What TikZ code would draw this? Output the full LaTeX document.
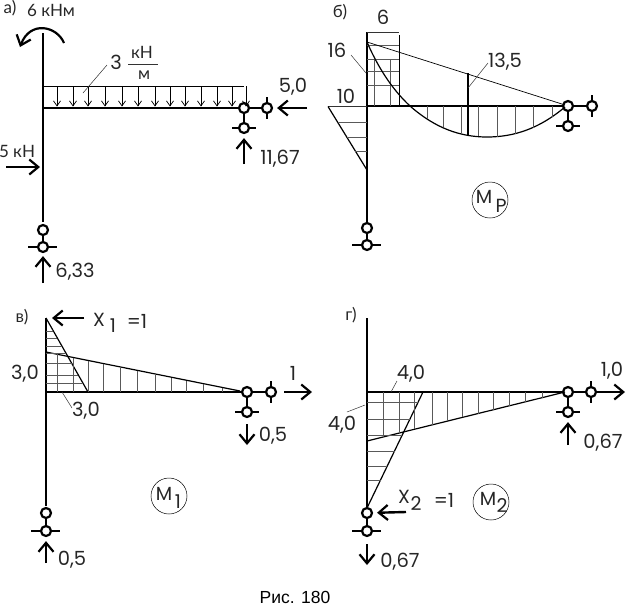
\documentclass[tikz,border=0pt]{standalone}
\usepackage{fontspec}
\setmainfont{Poppins}
\newfontfamily\cyrfont{Lato}
\newfontfamily\capfont{Liberation Sans}
\usetikzlibrary{arrows.meta}

\tikzset{
    txt/.style={inner sep=0pt, text=black!85, font=\fontsize{19.5}{21}\selectfont},
    cyr/.style={inner sep=0pt, text=black!85, font=\cyrfont\fontsize{17}{19}\selectfont},
    subtxt/.style={inner sep=0pt, text=black!85, font=\fontsize{19}{21}\selectfont},
    hinge/.style={circle, draw, line width=2.2pt, fill=white, inner sep=0pt, minimum size=10pt},
    bar/.style={line width=2.8pt},
    link/.style={line width=1.2pt},
    tick/.style={line width=2.2pt},
    force/.style={line width=2.4pt, -{Straight Barb[length=9pt, width=15pt, line width=2.2pt]}},
    load/.style={line width=0.7pt, -{Straight Barb[length=5pt, width=7pt]}},
    thinline/.style={line width=0.5pt, black!80},
    hatch/.style={line width=0.4pt, black!65},
    edgeline/.style={line width=1.2pt},
    tag/.style={circle, draw, line width=0.5pt, minimum size=36pt, inner sep=0pt}
}

\begin{document}
\begin{tikzpicture}[x=1pt, y=-1pt]
    \useasboundingbox (0,0) rectangle (630,606);

    % define supports
    \foreach \s/\x/\y/\yy in {load/43/230/247, mom/367/228/245, one/46/513/531, two/367/513/531}
    {
        \node[hinge] (\s-foot) at (\x, \y) {};
        \node[hinge] (\s-base) at (\x, \yy) {};
        \draw[link] (\s-foot) -- (\s-base);
        \coordinate (\s-basel) at (\x-15, \yy);
        \coordinate (\s-baser) at (\x+14, \yy);
        \draw[tick] (\s-basel) -- (\s-base);
        \draw[tick] (\s-base) -- (\s-baser);
    }
    \foreach \s/\x/\y/\xx in {load/244/108/267, mom/568/106/592, one/247/392/271, two/568/392/591}
    {
        \node[hinge] (\s-joint) at (\x, \y) {};
        \node[hinge] (\s-roll) at (\x, \y+20) {};
        \node[hinge] (\s-side) at (\xx, \y) {};
        \draw[link] (\s-joint) -- (\s-roll);
        \draw[link] (\s-joint) -- (\s-side);
        \coordinate (\s-rolll) at (\x-12, \y+20);
        \coordinate (\s-rollr) at (\x+12, \y+20);
        \draw[tick] (\s-rolll) -- (\s-roll);
        \draw[tick] (\s-roll) -- (\s-rollr);
        \coordinate (\s-sidet) at (\xx, \y-11);
        \coordinate (\s-sideb) at (\xx, \y+11);
        \draw[tick] (\s-sidet) -- (\s-side);
        \draw[tick] (\s-side) -- (\s-sideb);
    }

    % frames
    \foreach \s/\x/\yt/\yl/\yb in {load/43/33/222/108, mom/367/32/222/106, one/46/318/506/392, two/367/318/508/392}
    {
        \coordinate (\s-top) at (\x, \yt);
        \coordinate (\s-low) at (\x, \yl);
        \coordinate (\s-knee) at (\x, \yb);
        \draw[bar] (\s-top) -- (\s-low);
        \draw[bar] (\s-knee) -- (\s-joint);
    }

    % panel a: loads
    \coordinate (ql) at (43, 86);
    \coordinate (qr) at (244, 86);
    \draw[line width=0.8pt] (ql) -- (qr);
    \foreach \x in {57, 73, 88, 105, 122, 138, 155, 170, 185, 201, 217, 232, 246}
        \draw[load] (\x, 86) -- (\x, 106.5);
    \draw[thinline] (83, 93) -- (107, 65);
    \node[txt] (q) at (116, 62) {3};
    \node[cyr] (qn) at (142, 52) {кН};
    \node[cyr] (qd) at (144, 75) {м};
    \draw[thinline] (128, 64) -- (158, 64);
    \draw[line width=2.2pt, -{Straight Barb[length=9pt, width=15pt, line width=2.2pt]}] (64, 43) .. controls (57, 26) and (30, 20) .. (20, 47);
    \node[cyr] (mom6) at (51, 10) {6 кНм};
    \node[cyr] (la) at (10, 8) {а)};
    \node[cyr] (fl) at (17, 151) {5 кН};
    \coordinate (fls) at (6, 167);
    \coordinate (fle) at (40, 167);
    \draw[force] (fls) -- (fle);
    \coordinate (ras) at (43, 283);
    \draw[force, shorten >=3pt] (ras) -- (load-base);
    \node[txt] (ra) at (75, 272) {6,33};
    \coordinate (rbs) at (244, 164);
    \draw[force, shorten >=4pt] (rbs) -- (load-roll);
    \node[txt] (rb) at (280, 159) {11,67};
    \coordinate (rhs) at (307, 108);
    \draw[force, shorten >=4pt] (rhs) -- (load-side);
    \node[txt] (rh) at (293, 87) {5,0};

    % panel b: moment diagram
    \node[cyr] (lb) at (340, 12) {б)};
    \node[txt] (b6) at (383, 17) {6};
    \node[txt] (b16) at (337, 50) {16};
    \node[txt] (b10) at (346, 96) {10};
    \node[txt] (b135) at (505, 62) {13,5};
    \draw[thinline] (367, 32) -- (399, 32);
    \draw[line width=0.8pt] (399, 35) -- (399, 106);
    \foreach \y in {45, 59, 71, 85}
        \draw[hatch] (367, \y) -- (399, \y);
    \foreach \x in {374, 390}
        \draw[hatch] (\x, 59) -- (\x, 106);
    \draw[edgeline] (367, 42) .. controls (380, 72) and (395, 92) .. (410, 106) .. controls (435, 128) and (460, 137) .. (487, 137) .. controls (515, 137) and (540, 128) .. (565, 107);
    \draw[line width=0.7pt] (367, 42) -- (565, 105);
    \draw[line width=2.4pt] (468, 73) -- (468, 135);
    \draw[thinline] (468, 88) -- (488, 63);
    \draw[thinline] (351, 55) -- (366, 73);
    \foreach \x/\y in {427/119, 443/127, 461/134, 478/136, 497/137, 515/134, 533/128, 552/117}
        \draw[hatch] (\x, 106) -- (\x, \y);
    \draw[thinline] (328, 106.5) -- (367, 106.5);
    \draw[edgeline] (328, 106.5) -- (367, 170);
    \foreach \y [evaluate=\y as \e using 328+39*(\y-106)/64] in {122, 137, 151}
        \draw[hatch] (\e, \y) -- (367, \y);
    \node[tag] (mp) at (490, 200) {};
    \node[subtxt] (mpm) at (484, 197) {M};
    \node[subtxt] (mpp) at (501, 206) {P};

    % panel c: unit state
    \node[cyr] (lc) at (22, 317) {в)};
    \draw[edgeline] (46, 318) -- (88, 392);
    \draw[edgeline] (46, 352) -- (240, 391);
    \foreach \y [evaluate=\y as \e using 46+42*(\y-318)/74] in {331, 338, 346, 353, 363, 375, 383}
        \draw[hatch] (46, \y) -- (\e, \y);
    \foreach \x [evaluate=\x as \t using 352+(\x-46)*40/194] in {57, 73, 88, 103, 120, 137, 155, 171, 186, 203, 222}
        \draw[hatch] (\x, \t) -- (\x, 392);
    \draw[thinline] (62, 392) -- (72, 408);
    \node[txt] (c30a) at (25, 374) {3,0};
    \node[txt] (c30b) at (86, 411) {3,0};
    \coordinate (xas) at (84, 318);
    \coordinate (xae) at (52, 318);
    \draw[force] (xas) -- (xae);
    \node[subtxt] (xa) at (99, 320) {X};
    \node[subtxt] (xa1) at (113, 326) {1};
    \node[txt] (xav) at (137, 321) {=1};
    \coordinate (crs) at (284, 392);
    \coordinate (cre) at (312, 392);
    \draw[force] (crs) -- (cre);
    \node[txt] (cr) at (293, 373) {1};
    \coordinate (cve) at (247, 445);
    \draw[force, shorten <=6pt] (one-roll) -- (cve);
    \node[txt] (cv) at (273, 436) {0,5};
    \coordinate (cbs) at (46, 563);
    \draw[force, shorten >=4pt] (cbs) -- (one-base);
    \node[txt] (cb) at (72, 560) {0,5};
    \node[tag] (m1) at (169, 496) {};
    \node[subtxt] (m1m) at (164, 494) {M};
    \node[subtxt] (m1i) at (178, 502) {1};

    % panel d: unit state
    \node[cyr] (ld) at (351, 315) {г)};
    \draw[edgeline] (367, 508) -- (423, 392);
    \draw[edgeline] (367, 441) -- (565, 392);
    \foreach \y [evaluate=\y as \e using 367+56*(508-\y)/116] in {402, 419, 435, 451, 466, 480}
        \draw[hatch] (367, \y) -- (\e, \y);
    \foreach \x [evaluate=\x as \t using 441-(\x-367)*49/198] in {383, 399, 414, 432, 447, 462, 478, 493, 509, 525, 542}
        \draw[hatch] (\x, 392) -- (\x, \t);
    \draw[thinline] (391, 392) -- (397, 381);
    \draw[thinline] (347, 412) -- (365, 405);
    \node[txt] (d40a) at (411, 374) {4,0};
    \node[txt] (d40b) at (342, 425) {4,0};
    \coordinate (xbs) at (406, 512);
    \draw[force, shorten >=4pt] (xbs) -- (two-foot);
    \node[subtxt] (xb) at (404, 497) {X};
    \node[subtxt] (xb2) at (416, 504) {2};
    \node[txt] (xbv) at (444, 500) {=1};
    \coordinate (dre) at (625, 392);
    \draw[force] (two-side) -- (dre);
    \node[txt] (dr) at (612, 371) {1,0};
    \coordinate (dvs) at (568, 445);
    \draw[force, shorten >=4pt] (dvs) -- (two-roll);
    \node[txt] (dv) at (603, 443) {0,67};
    \coordinate (dbe) at (367, 565);
    \draw[force, shorten <=7pt] (two-base) -- (dbe);
    \node[txt] (db) at (400, 562) {0,67};
    \node[tag] (m2) at (491, 502) {};
    \node[subtxt] (m2m) at (488, 499) {M};
    \node[subtxt] (m2i) at (502, 506) {2};

    % caption
    \node[inner sep=0pt, font=\capfont\fontsize{17.5}{19}\selectfont] (cap) at (295, 597) {Рис. 180};
\end{tikzpicture}
\end{document}
